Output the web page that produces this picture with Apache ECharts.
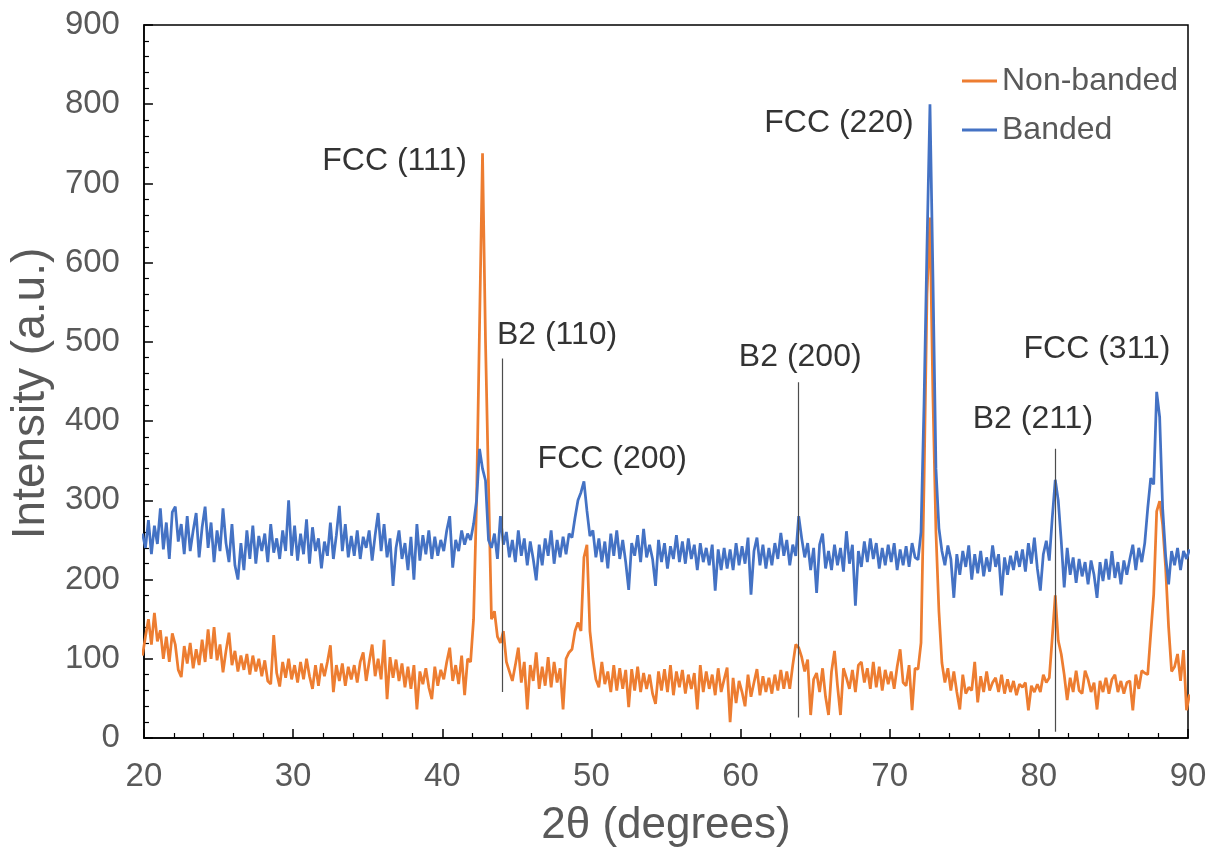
<!DOCTYPE html>
<html>
<head>
<meta charset="utf-8">
<title>XRD patterns</title>
<script src="https://cdn.jsdelivr.net/npm/echarts@6/dist/echarts.min.js"></script>
<style>
  html, body { margin: 0; padding: 0; background: #fff; }
  #chart { width: 1213px; height: 853px; }
</style>
</head>
<body>
<div id="chart"></div>
<script>
// Scan grid: 19.9° to 90.1° in 0.2° steps (the axis shows 20–90)
// After the first value, each row holds one degree: d.1, d.3, d.5, d.7, d.9
const angleStart = 19.9;
const angleStep = 0.2;

// Non-banded sample intensity (a.u.)
const nonBanded = [
  104,
  128, 150, 118, 158, 122,
  136, 100, 128, 96, 132,
  118, 86, 77, 116, 94,
  120, 88, 112, 92, 124,
  96, 137, 100, 140, 98,
  118, 83, 110, 133, 92,
  110, 84, 104, 86, 106,
  80, 104, 84, 100, 78,
  98, 72, 68, 130, 82,
  65, 96, 76, 100, 74,
  92, 70, 96, 74, 100,
  78, 62, 92, 66, 94,
  78, 96, 117, 58, 92,
  72, 94, 66, 90, 74,
  92, 70, 96, 108, 72,
  96, 118, 78, 100, 74,
  124, 49, 102, 76, 99,
  72, 94, 64, 90, 62,
  92, 36, 84, 68, 88,
  64, 49, 90, 66, 86,
  74, 96, 114, 72, 92,
  68, 104, 54, 100, 96,
  150, 300, 520, 738, 500,
  320, 150, 160, 128, 120,
  135, 96, 84, 72, 92,
  114, 70, 96, 36, 92,
  72, 108, 62, 90, 66,
  102, 64, 96, 70, 88,
  36, 100, 108, 112, 135,
  146, 135, 228, 244, 135,
  100, 74, 64, 96, 68,
  84, 58, 92, 60, 88,
  62, 86, 39, 87, 60,
  90, 58, 82, 62, 80,
  56, 43, 84, 60, 87,
  58, 92, 54, 84, 64,
  86, 56, 80, 62, 82,
  36, 92, 58, 84, 62,
  80, 54, 88, 58, 74,
  89, 20, 76, 44, 72,
  58, 40, 80, 52, 70,
  87, 54, 78, 58, 76,
  56, 80, 60, 86, 62,
  84, 62, 92, 118, 114,
  102, 84, 99, 29, 74,
  82, 58, 88, 52, 29,
  84, 110, 66, 29, 88,
  76, 62, 86, 58, 92,
  96, 70, 88, 62, 96,
  64, 90, 60, 86, 68,
  84, 62, 90, 112, 70,
  66, 92, 35, 88, 87,
  120, 320, 560, 657, 430,
  260, 160, 95, 70, 88,
  60, 84, 58, 36, 80,
  56, 64, 60, 96, 45,
  78, 58, 84, 60, 70,
  76, 58, 80, 56, 74,
  58, 72, 54, 68, 64,
  70, 35, 66, 58, 68,
  58, 80, 70, 76, 127,
  180, 123, 106, 80, 48,
  76, 58, 85, 60, 56,
  85, 74, 58, 70, 36,
  72, 58, 76, 56, 74,
  80, 58, 72, 56, 70,
  72, 35, 80, 62, 85,
  82, 80, 131, 181, 286,
  299, 269, 215, 140, 84,
  90, 106, 72, 111, 35,
  55
];

// Banded sample intensity (a.u.)
const banded = [
  258,
  240, 275, 232, 268, 245,
  290, 238, 272, 226, 285,
  292, 248, 270, 232, 280,
  236, 262, 284, 228, 266,
  292, 240, 272, 222, 262,
  236, 290, 246, 222, 270,
  218, 200, 246, 212, 262,
  226, 268, 220, 255, 236,
  258, 222, 270, 234, 252,
  226, 262, 236, 300, 230,
  268, 224, 258, 232, 276,
  220, 266, 236, 252, 214,
  248, 230, 272, 226, 256,
  293, 236, 270, 228, 255,
  230, 262, 226, 254, 240,
  262, 224, 256, 284, 236,
  270, 228, 252, 192, 240,
  262, 226, 246, 212, 254,
  200, 270, 224, 256, 232,
  262, 226, 254, 230, 250,
  236, 262, 280, 215, 250,
  236, 262, 244, 258, 250,
  270, 300, 365, 340, 325,
  250, 240, 258, 226, 280,
  244, 260, 228, 250, 222,
  262, 230, 252, 218, 248,
  226, 199, 244, 218, 252,
  230, 262, 220, 250, 228,
  254, 232, 258, 253, 278,
  300, 310, 324, 287, 255,
  262, 228, 252, 222, 248,
  214, 258, 230, 262, 226,
  250, 222, 187, 246, 230,
  256, 222, 264, 228, 244,
  226, 192, 250, 222, 246,
  214, 242, 226, 256, 222,
  248, 220, 252, 226, 244,
  212, 246, 222, 240, 218,
  244, 186, 238, 212, 240,
  214, 238, 212, 246, 218,
  242, 220, 253, 181, 236,
  253, 218, 244, 214, 240,
  218, 246, 226, 259, 230,
  250, 218, 244, 230, 280,
  252, 228, 246, 212, 240,
  183, 244, 258, 214, 236,
  212, 244, 218, 240, 210,
  261, 220, 244, 167, 236,
  216, 248, 222, 252, 226,
  246, 214, 240, 218, 244,
  222, 246, 212, 238, 218,
  242, 216, 246, 228, 225,
  260, 420, 620, 800, 580,
  340, 265, 236, 218, 243,
  226, 177, 232, 206, 236,
  216, 243, 200, 232, 208,
  236, 204, 228, 210, 243,
  216, 232, 180, 228, 206,
  230, 212, 236, 216, 238,
  210, 246, 220, 253, 214,
  186, 232, 249, 224, 278,
  326, 300, 249, 190, 240,
  206, 228, 196, 226, 204,
  222, 194, 224, 206, 177,
  222, 198, 226, 200, 236,
  202, 222, 194, 224, 206,
  226, 244, 212, 240, 222,
  246, 290, 328, 320, 437,
  405, 290, 230, 194, 236,
  218, 240, 212, 236, 226,
  238
];

// Peak names and where each one is written [2θ, intensity]
const peakNames = ['FCC (111)', 'B2 (110)', 'FCC (200)', 'B2 (200)', 'FCC (220)', 'B2 (211)', 'FCC (311)'];
const peakNameAt = [[36.8, 728], [47.7, 509], [51.4, 352], [64.0, 481], [66.6, 776], [79.6, 403], [83.9, 491]];

// B2 reflection markers: 2θ, lower and upper intensity of the drop line
const b2Angles = [44.0, 63.9, 81.1];
const b2From = [58, 26, 8];
const b2To = [479, 449, 365];

const seriesNames = ['Non-banded', 'Banded'];

function withAngles(values) {
  return values.map((v, i) => [+(angleStart + i * angleStep).toFixed(1), v]);
}

const chart = echarts.init(document.getElementById('chart'), null, { renderer: 'canvas' });

const grey = '#595959';
const font = 'Liberation Sans, Arial, sans-serif';

chart.setOption({
  animation: false,
  backgroundColor: '#ffffff',
  textStyle: { fontFamily: font },
  grid: {
    left: 143, right: 25, top: 25, bottom: 112,
    show: true, borderColor: '#000', borderWidth: 1.5, backgroundColor: 'transparent'
  },
  legend: {
    data: seriesNames,
    orient: 'vertical',
    left: 957, top: 60,
    icon: 'rect',
    itemWidth: 35, itemHeight: 3, itemGap: 17,
    textStyle: { color: grey, fontSize: 32, fontFamily: font, padding: [0, 0, 0, 0] }
  },
  xAxis: {
    type: 'value', min: 20, max: 90, interval: 10,
    name: '2θ (degrees)', nameLocation: 'middle', nameGap: 66,
    nameTextStyle: { color: grey, fontSize: 44, fontFamily: font },
    axisLine: { lineStyle: { color: '#000', width: 1.5 } },
    axisTick: { inside: true, length: 9, lineStyle: { color: '#000', width: 1.5 } },
    minorTick: { show: true, splitNumber: 5, length: 5, lineStyle: { color: '#000', width: 1.2 } },
    splitLine: { show: false },
    axisLabel: { color: grey, fontSize: 33, margin: 22, fontFamily: font }
  },
  yAxis: {
    type: 'value', min: 0, max: 900, interval: 100,
    name: 'Intensity (a.u.)', nameLocation: 'middle', nameGap: 88,
    nameTextStyle: { color: grey, fontSize: 46, fontFamily: font, padding: [0, 24, 0, 0] },
    axisLine: { show: true, lineStyle: { color: '#000', width: 1.5 } },
    axisTick: { show: true, inside: true, length: 9, lineStyle: { color: '#000', width: 1.5 } },
    minorTick: { show: true, splitNumber: 5, length: 5, lineStyle: { color: '#000', width: 1.2 } },
    splitLine: { show: false },
    axisLabel: { color: grey, fontSize: 33, margin: 24, fontFamily: font }
  },
  series: [
    {
      name: seriesNames[0], type: 'line', symbol: 'none',
      data: withAngles(nonBanded),
      color: '#ED7D31',
      lineStyle: { color: '#ED7D31', width: 2.75 }
    },
    {
      name: seriesNames[1], type: 'line', symbol: 'none',
      data: withAngles(banded),
      color: '#4472C4',
      lineStyle: { color: '#4472C4', width: 2.75 }
    },
    {
      name: 'peaks', type: 'scatter', symbolSize: 1, silent: true,
      itemStyle: { color: 'rgba(0,0,0,0)' },
      label: {
        show: true, position: 'inside', formatter: '{b}',
        color: '#000', fontSize: 32, fontFamily: font
      },
      data: peakNames.map((n, i) => ({ name: n, value: peakNameAt[i] })),
      markLine: {
        silent: true, symbol: ['none', 'none'],
        label: { show: false },
        lineStyle: { color: '#4d4d4d', width: 1.2, type: 'solid' },
        data: b2Angles.map((a, i) => [{ coord: [a, b2From[i]] }, { coord: [a, b2To[i]] }])
      }
    }
  ]
});
</script>
</body>
</html>
